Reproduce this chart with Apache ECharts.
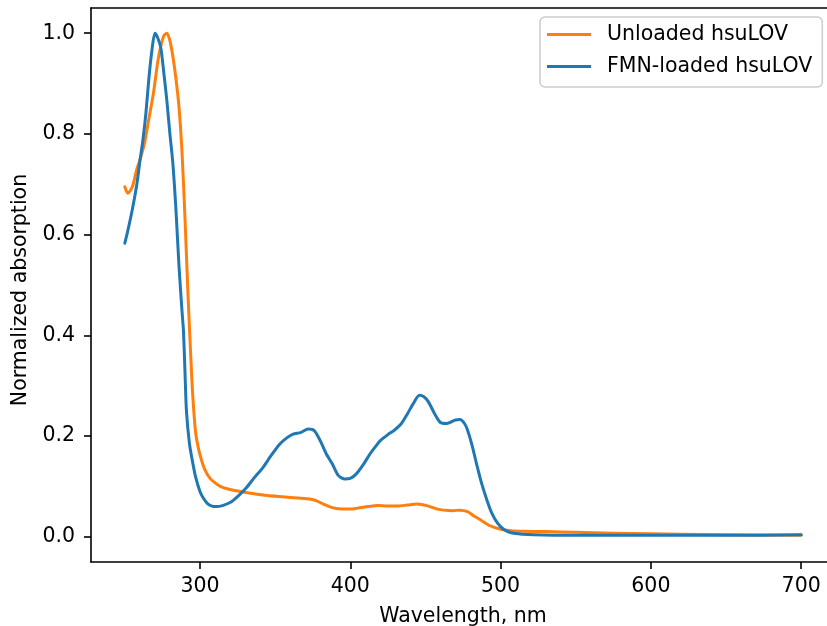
<!DOCTYPE html>
<html>
<head>
<meta charset="utf-8">
<script src="https://cdn.jsdelivr.net/npm/echarts@6/dist/echarts.min.js"></script>
<style>html,body{margin:0;padding:0;background:#fff;overflow:hidden}#c{width:827px;height:626px}</style>
</head>
<body>
<div id="c"></div>
<script>
// ---- data ----
const unloadedWl = [250,252,255,258,260,263,266,269,272,274,276,278,280,282,284,286,288,290,292,294,295,296,297,298,300,303,307,312,316,320,327,335,345,355,365,373,378,382,388,395,400,405,412,418,425,431,438,444,449,453,458,462,468,473,478,482,487,493,500,507,515,530,550,575,600,620,650,700];
const unloadedAbs = [0.695,0.682,0.695,0.73,0.748,0.78,0.83,0.88,0.945,0.975,0.995,1.0,0.985,0.953,0.91,0.855,0.767,0.635,0.483,0.35,0.29,0.245,0.21,0.19,0.163,0.135,0.115,0.103,0.097,0.094,0.09,0.086,0.082,0.0795,0.077,0.075,0.071,0.065,0.058,0.055,0.055,0.057,0.06,0.062,0.061,0.061,0.063,0.065,0.063,0.06,0.055,0.053,0.052,0.053,0.05,0.042,0.033,0.022,0.015,0.012,0.011,0.0105,0.009,0.0073,0.006,0.005,0.004,0.003];

const loadedWl = [250,252,255,258,260,262,264,266,268,270,272,274,276,278,280,282,284,286,288,289,290,291,293,295,297,300,302,305,308,311,315,320,325,331,336,342,347,353,358,362,367,372,376,380,384,388,392,396,400,404,409,413,417,420,425,429,434,438,442,446,449,452,456,460,464,467,470,473,476,478,481,484,487,491,494,498,502,507,515,522,550,600,650,700];
const loadedAbs = [0.583,0.608,0.65,0.70,0.745,0.787,0.84,0.91,0.965,1.0,0.99,0.97,0.92,0.865,0.80,0.74,0.65,0.54,0.45,0.41,0.33,0.25,0.185,0.15,0.12,0.09,0.078,0.066,0.061,0.06,0.062,0.068,0.08,0.098,0.117,0.138,0.16,0.184,0.197,0.204,0.207,0.214,0.211,0.191,0.165,0.145,0.122,0.115,0.116,0.125,0.145,0.164,0.18,0.191,0.203,0.211,0.225,0.244,0.265,0.281,0.278,0.268,0.245,0.227,0.225,0.228,0.232,0.233,0.225,0.212,0.182,0.145,0.11,0.072,0.048,0.027,0.015,0.008,0.005,0.004,0.003,0.003,0.003,0.004];

const xTicks = [300,400,500,600,700];
const yTicks = [0,0.2,0.4,0.6,0.8,1.0];
const seriesNames = ['Unloaded hsuLOV','FMN-loaded hsuLOV'];
const xLabel = 'Wavelength, nm';
const yLabel = 'Normalized absorption';

// ---- chart ----
const FONT = 'DejaVu Sans';
const FS = 20.5;
const pairs = (xs, ys) => xs.map((x, i) => [x, ys[i]]);
const chart = echarts.init(document.getElementById('c'), null, {renderer: 'canvas'});
chart.setOption({
  animation: false,
  backgroundColor: '#ffffff',
  grid: {left: 91, top: 8, width: 744, height: 554, outerBoundsMode: 'none', containLabel: false, show: false},
  xAxis: [{
    type: 'value', min: 227.5, max: 722.5,
    name: xLabel, nameLocation: 'middle', nameGap: 44,
    nameTextStyle: {fontFamily: FONT, fontSize: FS, color: '#000'},
    axisLine: {show: true, onZero: false, lineStyle: {color: '#000', width: 1.6}},
    axisTick: {show: true, length: 7, lineStyle: {color: '#000', width: 1.6}, customValues: xTicks},
    axisLabel: {margin: 14, fontFamily: FONT, fontSize: FS, color: '#000', customValues: xTicks},
    splitLine: {show: false}
  }, {
    type: 'value', position: 'top', min: 227.5, max: 722.5,
    axisLine: {show: true, onZero: false, lineStyle: {color: '#000', width: 1.6}},
    axisTick: {show: false}, axisLabel: {show: false}, splitLine: {show: false}
  }],
  yAxis: {
    type: 'value', min: -0.05, max: 1.05,
    name: yLabel, nameLocation: 'middle', nameGap: 51, nameRotate: 90,
    nameTextStyle: {fontFamily: FONT, fontSize: FS, color: '#000', padding: [0, 10, 0, 0]},
    axisLine: {show: true, onZero: false, lineStyle: {color: '#000', width: 1.6}},
    axisTick: {show: true, length: 7, lineStyle: {color: '#000', width: 1.6}, customValues: yTicks},
    axisLabel: {margin: 16, fontFamily: FONT, fontSize: FS, color: '#000', customValues: yTicks, formatter: v => v.toFixed(1)},
    splitLine: {show: false}
  },
  legend: {
    orient: 'vertical', left: 540, top: 17,
    padding: [7, 10, 10, 7], itemGap: 11, itemWidth: 44, itemHeight: 3, icon: 'rect',
    textStyle: {fontFamily: FONT, fontSize: FS, color: '#000', padding: [0, 0, 0, 11], lineHeight: 20},
    borderColor: '#cccccc', borderWidth: 1.5, borderRadius: 5, backgroundColor: 'rgba(255,255,255,0.8)',
    data: seriesNames
  },
  // white mask over the far right edge (the reference has no right spine in frame)
  graphic: [{type: 'rect', left: 824.5, top: 10, shape: {width: 4, height: 550}, style: {fill: '#ffffff'}, z: 100, silent: true}],
  series: [
    {name: seriesNames[0], type: 'line', data: pairs(unloadedWl, unloadedAbs), symbol: 'none', smooth: 0.25,
     lineStyle: {color: '#ff7f0e', width: 3, join: 'round', cap: 'round'}, itemStyle: {color: '#ff7f0e'}, z: 2},
    {name: seriesNames[1], type: 'line', data: pairs(loadedWl, loadedAbs), symbol: 'none', smooth: 0.25,
     lineStyle: {color: '#1f77b4', width: 3, join: 'round', cap: 'round'}, itemStyle: {color: '#1f77b4'}, z: 3}
  ]
});
</script>
</body>
</html>
